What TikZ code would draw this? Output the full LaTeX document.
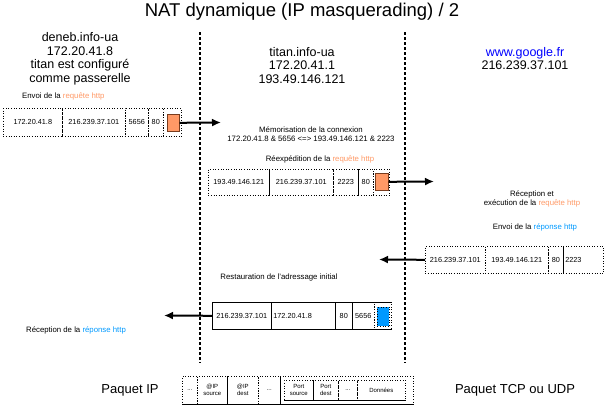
\documentclass[tikz,border=0pt]{standalone}
\usepackage{fontspec}
\setmainfont{Liberation Sans}
\usetikzlibrary{arrows.meta}
\definecolor{orng}{RGB}{255,153,102}
\definecolor{obord}{RGB}{120,60,30}
\definecolor{rblue}{RGB}{0,153,255}
\definecolor{gblue}{RGB}{0,0,255}
\begin{document}
\begin{tikzpicture}[x=1pt,y=-1pt,
  hdr/.style={align=center,inner sep=0pt,font=\fontsize{12.5}{13.5}\selectfont},
  small/.style={inner sep=0pt,font=\fontsize{7.8}{9}\selectfont},
  cell/.style={draw,dotted,line width=0.6pt,inner sep=0pt,anchor=north west,align=center,font=\fontsize{7.3}{8}\selectfont},
  tiny/.style={cell,font=\fontsize{6}{7}\selectfont},
  orect/.style={draw=obord,fill=orng,line width=0.6pt,inner sep=0pt,anchor=north west},
  brect/.style={draw=black,dotted,fill=rblue,line width=0.6pt,inner sep=0pt,anchor=north west},
  sep/.style={densely dashed,line width=1.6pt},
  arr/.style={line width=2pt,-{Latex[length=9pt,width=8pt]}},
  solidline/.style={solid,line width=0.7pt}]
\useasboundingbox (0,0) rectangle (604,407);

% title
\node[font=\fontsize{18.5}{20}\selectfont,inner sep=0pt] (title) at (302,12) {NAT dynamique (IP masquerading) / 2};

% separators
\coordinate (s1t) at (200,32); \coordinate (s1b) at (200,363);
\coordinate (s2t) at (405,32); \coordinate (s2b) at (405,363);
\draw[sep] (s1t) -- (s1b);
\draw[sep] (s2t) -- (s2b);

% headers
\node[hdr] (deneb) at (80,58.75) {deneb.info-ua\\172.20.41.8\\titan est configuré\\comme passerelle};
\node[hdr] (titan) at (302,65.5) {titan.info-ua\\172.20.41.1\\193.49.146.121};
\node[hdr] (google) at (525,58.75) {\textcolor{gblue}{www.google.fr}\\216.239.37.101};

% packet 1
\node[small,anchor=west] (t1) at (22,96) {Envoi de la \textcolor{orng}{requête http}};
\node[cell,minimum width=59pt,minimum height=28pt] (p1a) at (3,108) {172.20.41.8};
\node[cell,minimum width=63pt,minimum height=28pt] (p1b) at (62,108) {216.239.37.101};
\node[cell,minimum width=23pt,minimum height=28pt] (p1c) at (125,108) {5656};
\node[cell,minimum width=15pt,minimum height=28pt] (p1d) at (148,108) {80};
\node[cell,minimum width=18pt,minimum height=28pt] (p1e) at (163,108) {};
\node[orect,minimum width=12pt,minimum height=17pt] (p1o) at (167,114) {};
\coordinate (a1) at (221,122.5);
\draw[arr] (p1o.east) -- (a1);

% memorisation
\node[small,align=center] (mem) at (311,134.5) {Mémorisation de la connexion\\172.20.41.8 \& 5656 <=> 193.49.146.121 \& 2223};
\node[small] (t2) at (320,159) {Réexpédition de la \textcolor{orng}{requête http}};

% packet 2
\node[cell,minimum width=61pt,minimum height=26pt] (p2a) at (208,169) {193.49.146.121};
\node[cell,minimum width=64pt,minimum height=26pt] (p2b) at (269,169) {216.239.37.101};
\node[cell,minimum width=25pt,minimum height=26pt] (p2c) at (333,169) {2223};
\node[cell,minimum width=15pt,minimum height=26pt] (p2d) at (358,169) {80};
\node[cell,minimum width=16pt,minimum height=26pt] (p2e) at (373,169) {};
\draw[solidline] (p2a.north east) -- (p2a.south east);
\draw[solidline] (p2c.north east) -- (p2c.south east);
\node[orect,minimum width=13pt,minimum height=17pt] (p2o) at (375,173) {};
\coordinate (a2) at (434,181.5);
\draw[arr] (p2o.east) -- (a2);

% google side
\node[small,align=center] (t3) at (532,199) {Réception et\\exécution de la \textcolor{orng}{requête http}};
\node[small] (t4) at (535,227) {Envoi de la \textcolor{rblue}{réponse http}};

% packet 3
\node[cell,minimum width=60pt,minimum height=27pt] (p3a) at (425,246) {216.239.37.101};
\node[cell,minimum width=63pt,minimum height=27pt] (p3b) at (485,246) {193.49.146.121};
\node[cell,minimum width=15pt,minimum height=27pt] (p3c) at (548,246) {80};
\node[cell,minimum width=40pt,minimum height=27pt,text width=36pt,align=left] (p3d) at (563,246) {2223};
\draw[solidline] (p3c.north east) -- (p3c.south east);
\coordinate (a3) at (379,259.5);
\draw[arr] (p3a.west) -- (a3);

% restauration
\node[small] (t5) at (279,277) {Restauration de l'adressage initial};

% packet 4
\node[cell,solid,minimum width=59pt,minimum height=27pt] (p4a) at (212,302) {216.239.37.101};
\node[cell,solid,minimum width=64pt,minimum height=27pt,text width=60pt,align=left] (p4b) at (271,302) {172.20.41.8};
\node[cell,solid,minimum width=17pt,minimum height=27pt] (p4c) at (335,302) {80};
\node[cell,minimum width=22pt,minimum height=27pt] (p4d) at (352,302) {5656};
\node[cell,minimum width=17pt,minimum height=27pt] (p4e) at (374,302) {};
\draw[solidline] (p4d.north west) -- (p4e.north east);
\draw[solidline] (p4d.south west) -- (p4e.south east);
\node[brect,minimum width=12pt,minimum height=19pt] (p4o) at (377,307) {};
\coordinate (a4) at (164,315.5);
\draw[arr] (p4a.west) -- (a4);

\node[small] (t6) at (76,330) {Réception de la \textcolor{rblue}{réponse http}};

% legend
\node[font=\fontsize{13}{15}\selectfont,inner sep=0pt] (lip) at (130,390) {Paquet IP};
\node[font=\fontsize{13}{15}\selectfont,inner sep=0pt] (ltcp) at (515,390) {Paquet TCP ou UDP};
\node[tiny,minimum width=15pt,minimum height=28pt] (l1) at (182,376) {...};
\node[tiny,minimum width=30pt,minimum height=28pt] (l2) at (197,376) {@IP\\source};
\node[tiny,minimum width=31pt,minimum height=28pt] (l3) at (227,376) {@IP\\dest};
\node[tiny,minimum width=22pt,minimum height=28pt] (l4) at (258,376) {...};
\node[tiny,minimum width=133pt,minimum height=28pt] (l5) at (280,376) {};
\draw[solidline] (l2.north east) -- (l2.south east);
\draw[solidline] (l4.north east) -- (l4.south east);
\draw[solidline] (l1.south west) -- (l5.south east);
\node[tiny,minimum width=29pt,minimum height=20pt] (l6) at (284,380) {Port\\source};
\node[tiny,minimum width=25pt,minimum height=20pt] (l7) at (313,380) {Port\\dest};
\node[tiny,minimum width=19pt,minimum height=20pt] (l8) at (338,380) {...};
\node[tiny,minimum width=48pt,minimum height=20pt] (l9) at (357,380) {Données};
\draw[solidline] (l6.south west) -- (l9.south east);
\draw[solidline] (l6.north east) -- (l6.south east);
\end{tikzpicture}
\end{document}
